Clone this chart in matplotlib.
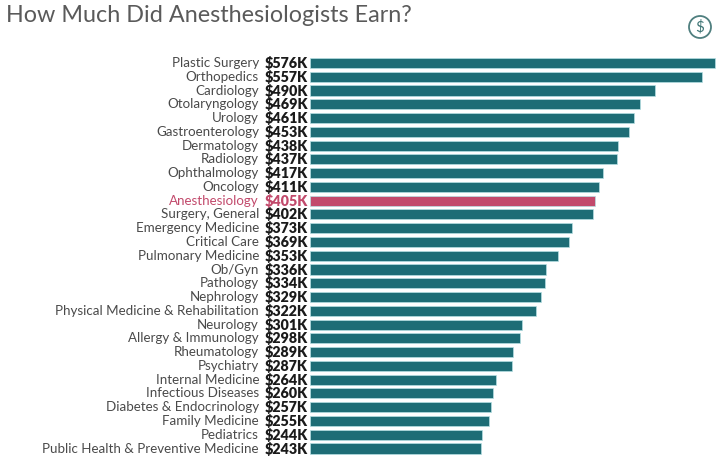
import matplotlib
matplotlib.use("Agg")
import matplotlib.pyplot as plt
from matplotlib.patches import Circle
import numpy as np

plt.rcParams['font.family'] = ['Lato', 'DejaVu Sans']

specialties = ['Plastic Surgery', 'Orthopedics', 'Cardiology', 'Otolaryngology', 'Urology',
               'Gastroenterology', 'Dermatology', 'Radiology', 'Ophthalmology', 'Oncology',
               'Anesthesiology', 'Surgery, General', 'Emergency Medicine', 'Critical Care',
               'Pulmonary Medicine', 'Ob/Gyn', 'Pathology', 'Nephrology',
               'Physical Medicine & Rehabilitation', 'Neurology', 'Allergy & Immunology',
               'Rheumatology', 'Psychiatry', 'Internal Medicine', 'Infectious Diseases',
               'Diabetes & Endocrinology', 'Family Medicine', 'Pediatrics',
               'Public Health & Preventive Medicine']
earnings = [576, 557, 490, 469, 461, 453, 438, 437, 417, 411, 405, 402, 373, 369, 353,
            336, 334, 329, 322, 301, 298, 289, 287, 264, 260, 257, 255, 244, 243]
highlight = 'Anesthesiology'

teal = '#1e6d76'
pink = '#c24a6c'

fig = plt.figure(figsize=(7.2, 4.57), dpi=100)
# axes placed in pixels: bars start at x=310, rows from y=56 to y=455
ax = fig.add_axes([310 / 720, 1 - 455.4 / 457, 410 / 720, 399.3 / 457])

y = np.arange(len(specialties))
colors = [pink if s == highlight else teal for s in specialties]
ax.barh(y, earnings, height=0.73, color=colors, edgecolor='#b5e0e3', linewidth=0.5)
ax.set_xlim(0, 576 * 410 / 405)
ax.set_ylim(len(specialties) - 0.5, -0.5)
ax.axis('off')

for i, (name, val) in enumerate(zip(specialties, earnings)):
    hl = name == highlight
    ax.annotate(f'${val}K', xy=(0, i), xytext=(-2, 0), textcoords='offset pixels',
                ha='right', va='center', fontsize=10.3, fontweight='heavy',
                color=pink if hl else '#1a1a1a')
    ax.annotate(name, xy=(0, i), xytext=(-51, 0), textcoords='offset pixels',
                ha='right', va='center', fontsize=9.6,
                color=pink if hl else '#4a4a4a')

fig.text(6 / 720, 1 - 15 / 457, 'How Much Did Anesthesiologists Earn?', ha='left', va='center',
         fontsize=16.8, color='#5a5a5a')

# dollar icon top right
circ = Circle((7.0, 4.57 - 0.27), 0.11, transform=fig.dpi_scale_trans,
              fill=False, edgecolor='#4f7f7f', linewidth=1.3)
fig.add_artist(circ)
fig.text(700 / 720, 1 - 27 / 457, '$', ha='center', va='center', fontsize=11,
         color='#3f7575')

fig.savefig('out.png', dpi=100)
